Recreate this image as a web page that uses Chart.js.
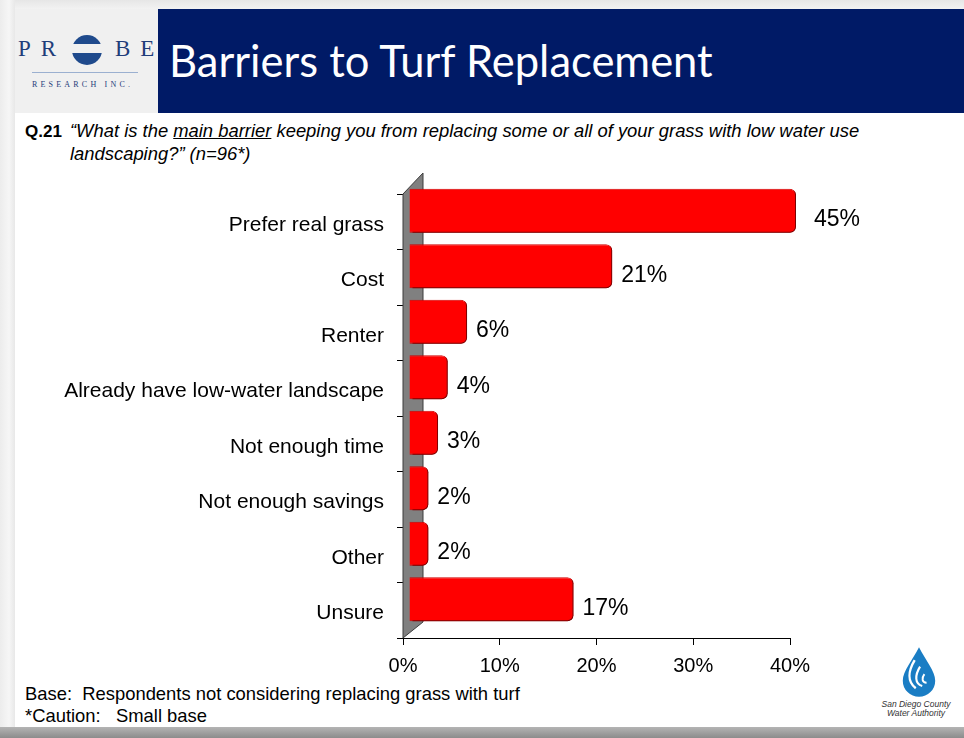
<!DOCTYPE html>
<html>
<head>
<meta charset="utf-8">
<script src="https://cdn.jsdelivr.net/npm/chart.js@4.4.0/dist/chart.umd.min.js"></script>
<style>
  html, body { margin: 0; padding: 0; background: #fff; }
  #page { position: relative; width: 964px; height: 738px; overflow: hidden; background: #fff;
          font-family: "Liberation Sans", Arial, sans-serif; color: #000; }
  .abs { position: absolute; white-space: nowrap; }
  #shadeTop { left: 0; top: 0; width: 964px; height: 9px; background: linear-gradient(#e6e6e6, #f2f2f2); }
  #shadeLeft { left: 0; top: 0; width: 15px; height: 738px; background: linear-gradient(90deg, #ececec, #f6f6f6 60%, #e8e8e8); }
  #shadeBottom { left: 0; top: 727px; width: 964px; height: 11px; background: linear-gradient(#b4b4b4, #8c8c8c); }
  #logoBox { left: 15px; top: 9px; width: 143px; height: 104px; background: #f0f0f0; }
  #band { left: 158px; top: 9px; width: 806px; height: 104px; background: #001a66; }
  #title { left: 169px; top: 35px; color: #fff; font-family: Lato, "Open Sans", sans-serif; font-size: 43.5px; line-height: 50px; }
  .probe { font-family: "Liberation Serif", "DejaVu Serif", serif; color: #1f3d7a; font-size: 23px; }
  #q { left: 25px; top: 120px; font-size: 18.4px; line-height: 22px; }
  #q b { display: inline-block; width: 45px; font-size: 17px; }
  #foot { left: 25px; top: 683px; font-size: 18.4px; line-height: 22px; }
  #sdcwa { left: 872px; top: 700px; width: 88px; text-align: center; font-size: 8.5px; line-height: 9px; font-style: italic; color: #333; }
  canvas { position: absolute; left: 0; top: 0; }
</style>
</head>
<body>
<div id="page">
  <div class="abs" id="shadeTop"></div>
  <div class="abs" id="shadeLeft"></div>
  <div class="abs" id="shadeBottom"></div>
  <div class="abs" id="logoBox"></div>
  <div class="abs probe" style="left:18px;top:36px;letter-spacing:10px">PR</div>
  <div class="abs probe" style="left:115px;top:36px;letter-spacing:10px">BE</div>
  <svg class="abs" style="left:70px;top:33px" width="34" height="34" viewBox="0 0 34 34">
    <circle cx="17" cy="17" r="15" fill="#1f4a8c"/>
    <rect x="0" y="11" width="34" height="9" fill="#f0f0f0"/>
  </svg>
  <div class="abs" style="left:32px;top:72px;width:106px;height:1px;background:#9bb0d0"></div>
  <div class="abs" style="left:32px;top:80px;font-family:'Liberation Serif',serif;font-size:8px;letter-spacing:3.2px;color:#1f3d7a">RESEARCH INC.</div>
  <div class="abs" id="band"></div>
  <div class="abs" id="title">Barriers to Turf Replacement</div>
  <div class="abs" id="q"><b>Q.21</b><i>“What is the <u>main barrier</u> keeping you from replacing some or all of your grass with low water use</i><br><span style="display:inline-block;width:45px"></span><i>landscaping?” (n=96*)</i></div>
  <div class="abs" id="foot">Base:&nbsp; Respondents not considering replacing grass with turf<br>*Caution:&nbsp;&nbsp; Small base</div>
  <svg class="abs" style="left:896px;top:645px" width="46" height="54" viewBox="0 0 42 50">
    <path d="M21 2 C 15 14, 6 24, 6 33 A 15 15 0 0 0 36 33 C 36 24, 27 14, 21 2 Z" fill="#1a7dc4"/>
    <path d="M17 14 C 11 24, 10 34, 18 40" stroke="#fff" stroke-width="2.2" fill="none"/>
    <path d="M22 20 C 17 28, 17 36, 24 38" stroke="#fff" stroke-width="2" fill="none"/>
    <path d="M26 27 C 23 31, 24 35, 28 35" stroke="#fff" stroke-width="1.8" fill="none"/>
  </svg>
  <div class="abs" id="sdcwa">San Diego County<br>Water Authority</div>
  <canvas id="chart" width="964" height="738"></canvas>
</div>
<script>
// Q.21 main barrier to replacing grass, share of respondents (%)
const CATEGORIES = [
  'Prefer real grass',
  'Cost',
  'Renter',
  'Already have low-water landscape',
  'Not enough time',
  'Not enough savings',
  'Other',
  'Unsure'
];
const SHARES = [45, 21, 6, 4, 3, 2, 2, 17];
const X_TICKS = [0, 10, 20, 30, 40];

const X_MIN = X_TICKS[0];
const X_MAX = X_TICKS[X_TICKS.length - 1];
const DEPTH_X = 6, DEPTH_Y = -11;   // 3d shift of the bars off the back wall

// gray side wall of the 3d plot
const wallPlugin = {
  id: 'wall',
  beforeDatasetsDraw(chart) {
    const { ctx, chartArea: a } = chart;
    ctx.save();
    ctx.beginPath();
    ctx.moveTo(a.left, a.bottom);
    ctx.lineTo(a.left, a.top);
    ctx.lineTo(a.left + 20, a.top - 21);
    ctx.lineTo(a.left + 20, a.bottom - 16);
    ctx.closePath();
    ctx.fillStyle = '#808080';
    ctx.fill();
    ctx.strokeStyle = '#3c3c3c';
    ctx.lineWidth = 1;
    ctx.stroke();
    ctx.restore();
  }
};

// shift + shadow the bars, then label them
const barPlugin = {
  id: 'bar3d',
  beforeDatasetDraw(chart) {
    const ctx = chart.ctx;
    ctx.save();
    ctx.translate(DEPTH_X, DEPTH_Y);
    ctx.shadowColor = 'rgba(120,0,0,0.95)';
    ctx.shadowOffsetX = 3;
    ctx.shadowOffsetY = 2;
    ctx.shadowBlur = 1;
  },
  afterDatasetDraw(chart) {
    chart.ctx.restore();
  },
  afterDatasetsDraw(chart) {
    const ctx = chart.ctx;
    const meta = chart.getDatasetMeta(0);
    ctx.save();
    ctx.font = '23px "Liberation Sans", Arial, sans-serif';
    ctx.fillStyle = '#000';
    ctx.textBaseline = 'middle';
    ctx.textAlign = 'left';
    meta.data.forEach((el, i) => {
      const gap = SHARES[i] > X_MAX ? 18 : 9;
      ctx.fillText(SHARES[i] + '%', el.x + DEPTH_X + gap, el.y + DEPTH_Y + 9);
    });
    ctx.restore();
  }
};

new Chart(document.getElementById('chart'), {
  type: 'bar',
  data: {
    labels: CATEGORIES,
    datasets: [{
      // values past the axis max are cut at the max, as in the original
      data: SHARES.map(v => Math.min(v, X_MAX)),
      backgroundColor: '#ff0000',
      borderColor: '#d00000',
      borderWidth: 1,
      borderRadius: 6,
      borderSkipped: 'start',
      categoryPercentage: 1,
      barPercentage: 0.79,
      clip: false
    }]
  },
  options: {
    indexAxis: 'y',
    responsive: false,
    animation: false,
    events: [],
    layout: { padding: { top: 194, right: 174, left: 0, bottom: 0 } },
    plugins: { legend: { display: false }, tooltip: { enabled: false } },
    scales: {
      x: {
        min: X_MIN, max: X_MAX,
        ticks: { stepSize: 10, callback: v => v + '%', color: '#000', padding: 9,
                 font: { family: '"Liberation Sans", Arial, sans-serif', size: 20 } },
        grid: { drawOnChartArea: false, tickLength: 7, color: '#000' },
        border: { color: '#000', width: 1 },
        afterFit: s => { s.height = 100; }
      },
      y: {
        ticks: { color: '#000', padding: 13, labelOffset: 3,
                 font: { family: '"Liberation Sans", Arial, sans-serif', size: 21 } },
        grid: { offset: true, drawOnChartArea: false, tickLength: 6, color: '#000' },
        border: { color: '#000', width: 1 },
        afterFit: s => { s.width = 403; }
      }
    }
  },
  plugins: [wallPlugin, barPlugin]
});
</script>
</body>
</html>
